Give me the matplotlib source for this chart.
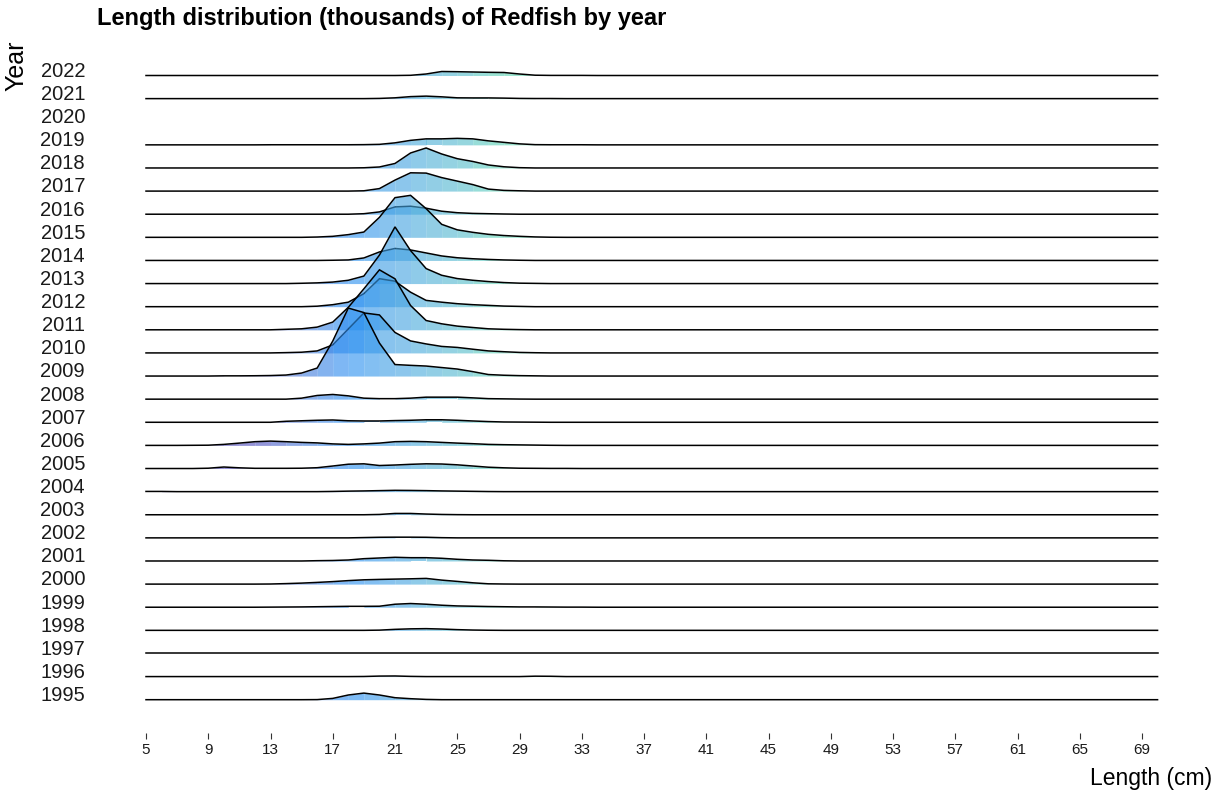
import numpy as np
import matplotlib.pyplot as plt
from matplotlib.colors import LinearSegmentedColormap, Normalize
from matplotlib.transforms import blended_transform_factory, ScaledTranslation

plt.rcParams['font.family'] = ['Liberation Sans', 'DejaVu Sans']

# length classes in cm
lengths = np.arange(5, 71)

# numbers (thousands) per 1 cm class: (first length, values from that length on)
n1995 = (16, [1, 13, 47, 66, 47, 20, 10, 3])
n1996 = (19, [1, 5, 6, 2, 0, 0, 0, 0, 0, 0, 0, 4, 3])
n1997 = (20, [0])
n1998 = (20, [2, 10, 15, 17, 13, 7, 3, 1])
n1999 = (13, [1, 2, 3, 5, 7, 9, 9, 10, 30, 37, 30, 20, 13, 10, 7, 5, 3, 3, 2, 1, 1])
n2000 = (13, [1, 5, 10, 17, 25, 35, 43, 47, 50, 53, 57, 40, 27, 13, 3, 1])
n2001 = (16, [3, 5, 10, 23, 30, 37, 33, 33, 27, 17, 10, 7, 2])
n2002 = (19, [3, 6, 7, 7, 6, 2])
n2003 = (20, [3, 13, 13, 7, 3, 1])
n2004 = (5, [2, 2, 0, 0, 0, 0, 0, 0, 0, 0, 0, 0, 2, 5, 7, 10, 13, 12, 10, 7, 5, 3, 1])
n2005 = (9, [3, 15, 7, 2, 2, 2, 3, 8, 25, 43, 47, 30, 35, 42, 47, 45, 37, 25, 13, 7, 3, 2, 1, 1])
n2006 = (8, [1, 2, 10, 23, 37, 43, 37, 30, 25, 15, 10, 15, 23, 37, 40, 37, 30, 23, 17, 10, 7, 5, 3, 1])
n2007 = (14, [10, 15, 20, 23, 15, 13, 13, 17, 20, 25, 25, 20, 13, 7, 3, 2, 1])
n2008 = (15, [10, 37, 47, 33, 10, 5, 5, 10, 20, 20, 20, 13, 5, 3, 1])
n2009 = (10, [2, 2, 3, 5, 10, 30, 80, 350, 680, 635, 330, 115, 107, 100, 85, 70, 44, 15, 8, 4, 2])
n2010 = (14, [3, 7, 20, 80, 240, 400, 380, 205, 120, 90, 65, 55, 37, 20, 12, 5, 2])
n2011 = (14, [5, 10, 27, 77, 225, 410, 600, 510, 243, 93, 60, 37, 23, 10, 5, 2])
n2012 = (16, [5, 20, 45, 130, 280, 255, 145, 63, 45, 30, 20, 13, 6, 3])
n2013 = (15, [3, 7, 15, 33, 75, 285, 567, 330, 150, 83, 50, 33, 20, 10, 4, 2])
n2014 = (17, [2, 5, 25, 85, 120, 105, 75, 45, 27, 17, 10, 5, 2])
n2015 = (16, [3, 10, 27, 53, 200, 397, 420, 287, 130, 75, 50, 30, 18, 10, 4, 1])
n2016 = (19, [5, 23, 73, 80, 60, 30, 15, 8, 5, 2])
n2017 = (19, [3, 25, 110, 183, 180, 135, 100, 65, 20, 7, 3])
n2018 = (19, [2, 10, 45, 150, 200, 140, 93, 65, 30, 12, 3])
n2019 = (13, [1, 1, 1, 1, 1, 1, 2, 5, 20, 45, 60, 60, 65, 60, 40, 25, 10, 2, 1, 1, 1])
n2020 = None  # no survey
n2021 = (20, [2, 8, 20, 25, 18, 8, 7, 7, 5, 2, 1, 1])
n2022 = (22, [2, 15, 40, 38, 35, 32, 30, 15, 3, 1, 1, 1])

years = list(range(1995, 2023))
series = [n1995, n1996, n1997, n1998, n1999, n2000, n2001, n2002, n2003, n2004,
          n2005, n2006, n2007, n2008, n2009, n2010, n2011, n2012, n2013, n2014,
          n2015, n2016, n2017, n2018, n2019, n2020, n2021, n2022]


def full_profile(entry):
    out = np.zeros(len(lengths))
    start, vals = entry
    out[start - 5:start - 5 + len(vals)] = vals
    return out


profiles = [None if s is None else full_profile(s) for s in series]
vmax = max(p.max() for p in profiles if p is not None)
scale = 2.94  # height of the tallest ridge, in rows

cmap = LinearSegmentedColormap.from_list('ridge', [
    (0.00, '#5040b0'),
    (0.11, '#5252c0'),
    (0.15, '#4a7ad8'),
    (0.20, '#2a8ff2'),
    (0.26, '#4aa8de'),
    (0.31, '#55bccd'),
    (0.35, '#5ed4b4'),
    (0.46, '#6ee6a8'),
    (1.00, '#6ee6a8'),
])
norm = Normalize(5, 70)

fig = plt.figure(figsize=(12.25, 7.97), dpi=100)
W, H = 1225, 797
ax = fig.add_axes([95 / W, 1 - 733 / H, (1210 - 95) / W, (733 - 35) / H])

# ridges from the top row down, so lower rows sit in front
for idx in range(len(years) - 1, -1, -1):
    prof = profiles[idx]
    if prof is None:
        continue
    h = prof / vmax * scale
    z = 2 + (len(years) - idx) * 0.1
    for k in range(len(lengths) - 1):
        if h[k] > 0 or h[k + 1] > 0:
            ax.fill_between(lengths[k:k + 2], idx, idx + h[k:k + 2],
                            color=cmap(norm(lengths[k] + 0.5)), alpha=0.62,
                            lw=0, zorder=z)
    ax.plot(lengths, idx + h, color='black', lw=1.1, zorder=z + 0.05,
            solid_joinstyle='miter')

ax.set_xlim(5 + (95 - 146) / 15.5625, 5 + (1210 - 146) / 15.5625)
ax.set_ylim((699.7 - 733) / 23.118, 27 + (75.5 - 35) / 23.118)

ax.set_xticks(range(5, 70, 4))
ax.tick_params(axis='x', length=4, width=0.8, color='#333333', labelsize=11,
               pad=3, labelcolor='#1a1a1a')
ax.set_yticks([])
for s in ax.spines.values():
    s.set_visible(False)

trans = blended_transform_factory(fig.transFigure, ax.transData)
for idx, yr in enumerate(years):
    ax.text(85 / W, idx, str(yr), transform=trans + ScaledTranslation(0, -1.0 / 72, fig.dpi_scale_trans),
            ha='right', va='baseline', fontsize=14.5, color='#1a1a1a')

fig.text(97 / W, 1 - 18 / H, 'Length distribution (thousands) of Redfish by year',
         fontsize=17, fontweight='bold', ha='left', va='center')
fig.text(1212 / W, 1 - 779 / H, 'Length (cm)', fontsize=16.5, ha='right', va='center')
fig.text(16 / W, 1 - 66 / H, 'Year', fontsize=18, rotation=90, ha='center', va='center')

fig.savefig('out.png', dpi=100)
